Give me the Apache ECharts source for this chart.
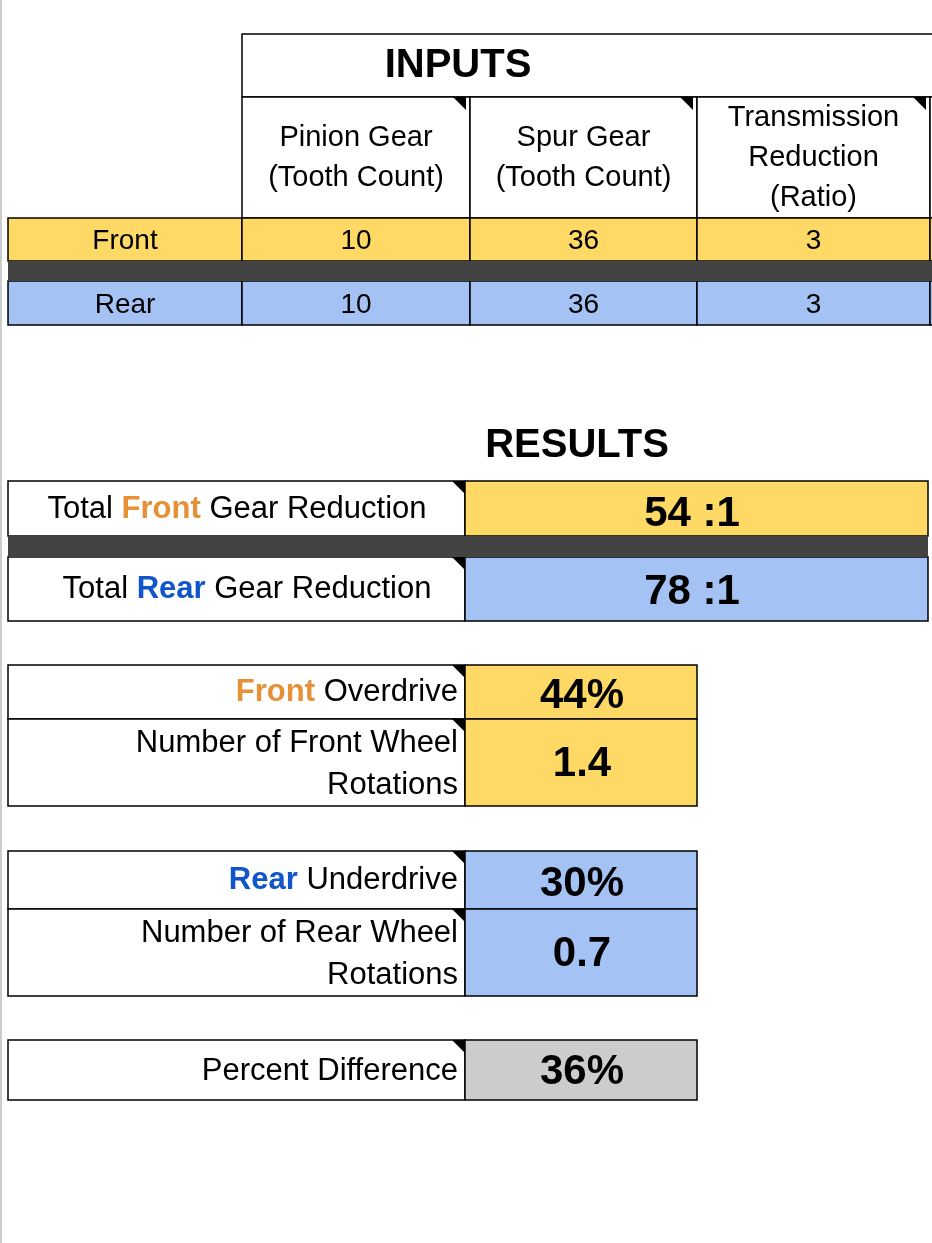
<!DOCTYPE html>
<html>
<head>
<meta charset="utf-8">
<script src="https://cdn.jsdelivr.net/npm/echarts@6/dist/echarts.min.js"></script>
<style>
html, body { margin: 0; padding: 0; background: #fff; }
#sheet { width: 932px; height: 1243px; }
</style>
</head>
<body>
<div id="sheet"></div>
<script>
// data
var inputHeaders = ['Pinion Gear\n(Tooth Count)', 'Spur Gear\n(Tooth Count)', 'Transmission\nReduction\n(Ratio)'];
var rowNames = ['Front', 'Rear'];
var frontInputs = [10, 36, 3];
var rearInputs = [10, 36, 3];
var totalReduction = ['54 :1', '78 :1'];
var frontStats = ['44%', '1.4'];
var rearStats = ['30%', '0.7'];
var percentDifference = '36%';

var YELLOW = '#ffd966', BLUE = '#a4c2f4', DARK = '#434343', GRAY = '#cccccc';
var FONT = 'Arial, "Liberation Sans", sans-serif';
var els = [];

function cell(x1, y1, x2, y2, fill) {
	els.push({ type: 'rect', shape: { x: x1, y: y1, width: x2 - x1, height: y2 - y1 },
		style: { fill: fill || '#fff', stroke: '#000', lineWidth: 1.5 } });
}
function text(x, y, str, opt) {
	opt = opt || {};
	els.push({ type: 'text', x: x, y: y, style: {
		text: str, rich: opt.rich, fill: '#000', font: (opt.bold ? 'bold ' : '') + (opt.size || 28) + 'px ' + FONT,
		align: opt.align || 'center', verticalAlign: 'middle', lineHeight: opt.lh || 40
	} });
}
function flag(x, y) {
	els.push({ type: 'polygon', shape: { points: [[x - 13, y], [x, y], [x, y + 13]] }, style: { fill: '#000' } });
}

// left page border
els.push({ type: 'line', shape: { x1: 1, y1: 0, x2: 1, y2: 1243 }, style: { stroke: '#999', lineWidth: 1 } });

// INPUTS
cell(242, 34, 940, 97);
text(458, 66, 'INPUTS', { bold: true, size: 40 });
var colX = [242, 470, 697, 930];
for (var i = 0; i < 3; i++) {
	cell(colX[i], 97, colX[i + 1], 218);
	text((colX[i] + colX[i + 1]) / 2, 158, inputHeaders[i], { size: 29 });
	flag(colX[i + 1] - 4, 97);
}
cell(930, 97, 945, 218);
var rows = [[218, 261, YELLOW, frontInputs], [281, 325, BLUE, rearInputs]];
rows.forEach(function(r, k) {
	cell(8, r[0], 242, r[1], r[2]);
	text(125, (r[0] + r[1]) / 2 + 2, rowNames[k]);
	for (var i = 0; i < 3; i++) {
		cell(colX[i], r[0], colX[i + 1], r[1], r[2]);
		text((colX[i] + colX[i + 1]) / 2, (r[0] + r[1]) / 2 + 2, String(r[3][i]));
	}
	cell(930, r[0], 945, r[1], r[2]);
});
els.push({ type: 'rect', shape: { x: 8, y: 261, width: 937, height: 20 }, style: { fill: DARK } });

// RESULTS
text(577, 446, 'RESULTS', { bold: true, size: 40 });
var richMix = {
	o: { fill: '#e69138', font: 'bold 31px ' + FONT },
	b: { fill: '#1155cc', font: 'bold 31px ' + FONT },
	n: { fill: '#000', font: '31px ' + FONT }
};
cell(8, 481, 465, 536); cell(465, 481, 928, 536, YELLOW);
cell(8, 557, 465, 621); cell(465, 557, 928, 621, BLUE);
els.push({ type: 'rect', shape: { x: 8, y: 536, width: 920, height: 21 }, style: { fill: DARK } });
text(237, 509, '{n|Total }{o|Front}{n| Gear Reduction}', { rich: richMix });
text(247, 589, '{n|Total }{b|Rear}{n| Gear Reduction}', { rich: richMix });
text(692, 514, totalReduction[0], { bold: true, size: 42 });
text(692, 592, totalReduction[1], { bold: true, size: 42 });
flag(465, 481); flag(465, 557);

function statBlock(y0, y1, y2, color, word, stats, wheel) {
	var rich = { c: { fill: color, font: 'bold 31px ' + FONT }, n: { fill: '#000', font: '31px ' + FONT } };
	cell(8, y0, 465, y1); cell(465, y0, 697, y1, color === '#e69138' ? YELLOW : BLUE);
	cell(8, y1, 465, y2); cell(465, y1, 697, y2, color === '#e69138' ? YELLOW : BLUE);
	text(458, (y0 + y1) / 2, '{c|' + word + '}{n| ' + (word === 'Front' ? 'Overdrive' : 'Underdrive') + '}', { rich: rich, align: 'right' });
	text(458, (y1 + y2) / 2 + 2, 'Number of ' + word + ' Wheel\nRotations', { size: 31, align: 'right', lh: 42 });
	text(582, (y0 + y1) / 2 + 4, stats[0], { bold: true, size: 42 });
	text(582, (y1 + y2) / 2 + 2, stats[1], { bold: true, size: 42 });
	flag(465, y0); flag(465, y1);
}
statBlock(665, 719, 806, '#e69138', 'Front', frontStats);
statBlock(851, 909, 996, '#1155cc', 'Rear', rearStats);

cell(8, 1040, 465, 1100); cell(465, 1040, 697, 1100, GRAY);
text(458, 1071, 'Percent Difference', { size: 31, align: 'right' });
text(582, 1072, percentDifference, { bold: true, size: 42 });
flag(465, 1040);

var chart = echarts.init(document.getElementById('sheet'));
chart.setOption({ animation: false, graphic: { elements: els } });
</script>
</body>
</html>
